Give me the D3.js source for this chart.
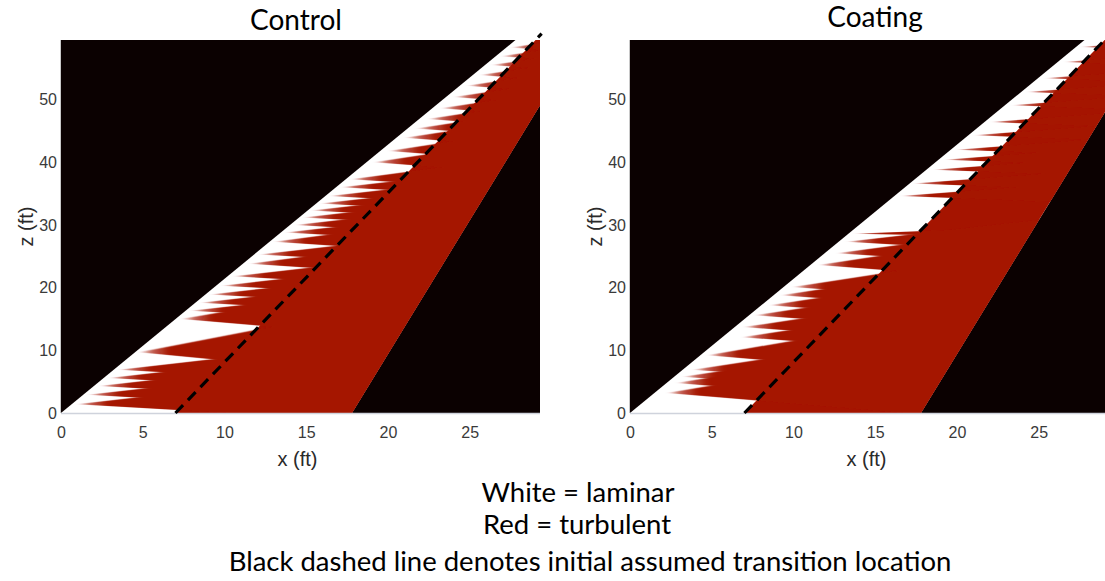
<!DOCTYPE html>
<html>
<head>
<meta charset="utf-8">
<script src="https://cdn.jsdelivr.net/npm/d3@7"></script>
<style>
    body { margin: 0; background: #fff; }
    .tick text { font-family: "Liberation Sans", Arial, sans-serif; font-size: 16px; fill: #3a3a3a; }
    .axis-title { font-family: "Liberation Sans", Arial, sans-serif; font-size: 20px; fill: #2a2a2a; }
    .title, .note { font-family: Lato, "Open Sans", sans-serif; fill: #000; }
</style>
</head>
<body>
<svg id="chart" width="1105" height="581"></svg>
<script>
// axis extents and ticks (ft)
const xMax = 29.3;
const zMax = 59.5;
const xTicks = [0, 5, 10, 15, 20, 25];
const zTicks = [0, 10, 20, 30, 40, 50];

// wing outline and assumed transition, as [x, z] end points
const leadingEdge = [[0, 0], [27.8, 59.5]];
const transitionLine = [[7.0, 0], [29.4, 60.5]];
const trailingEdge = [[17.8, 0], [29.4, 49.5]];

// turbulent wedges: [z of tip, x of tip, spread (dz/dx of upper edge)]
const controlWedges = [
    [1.4, 1.0, 0.3], [2.9, 1.7, 0.3], [4.3, 2.4, 0.3], [5.6, 3.0, 0.3], [6.9, 3.6, 0.3],
    [9.7, 4.8, 0.5], [15.0, 7.4, 0.45], [16.3, 8.0, 0.3], [17.6, 8.6, 0.3], [18.9, 9.2, 0.3],
    [20.3, 9.9, 0.3], [21.8, 10.6, 0.3], [23.8, 11.6, 0.35], [25.3, 12.2, 0.3], [27.3, 13.1, 0.35],
    [28.8, 13.8, 0.3], [30.0, 14.4, 0.3], [31.2, 14.9, 0.3], [32.3, 15.4, 0.3], [33.4, 15.95, 0.3],
    [34.6, 16.5, 0.3], [36.0, 17.2, 0.3], [37.3, 17.8, 0.35], [40.0, 19.2, 0.4], [41.8, 20.1, 0.4],
    [43.9, 21.1, 0.4], [45.4, 21.8, 0.4], [46.9, 22.5, 0.4], [48.6, 23.3, 0.4], [50.4, 24.1, 0.4],
    [52.2, 24.9, 0.4], [53.9, 25.7, 0.4], [55.5, 26.4, 0.4], [56.9, 27.0, 0.4], [58.3, 27.6, 0.4]
];
const coatingWedges = [
    [3.2, 2.3, 0.44], [4.8, 2.9, 0.44], [5.8, 3.3, 0.4], [6.9, 3.9, 0.4], [9.2, 4.8, 0.45],
    [12.1, 6.9, 0.4], [13.7, 7.0, 0.4], [15.6, 7.7, 0.4], [17.2, 8.6, 0.4], [18.8, 9.3, 0.4],
    [20.1, 10.0, 0.4], [23.6, 11.6, 0.4], [25.5, 12.7, 0.35], [27.3, 13.3, 0.3], [28.6, 13.7, 0.1],
    [34.6, 16.6, 0.2], [36.6, 17.4, 0.2], [38.8, 18.6, 0.2], [40.4, 19.3, 0.2], [42.0, 20.0, 0.2],
    [44.3, 21.1, 0.2], [46.4, 22.1, 0.2], [49.1, 23.4, 0.2], [51.2, 24.3, 0.2], [53.4, 25.4, 0.2],
    [56.0, 26.6, 0.2], [58.4, 27.6, 0.2]
];

const panelTitles = ['Control', 'Coating'];
const panelWedges = [controlWedges, coatingWedges];
const notes = ['White = laminar', 'Red = turbulent', 'Black dashed line denotes initial assumed transition location'];

const red = '#a51400';
const black = '#0b0101';

const svg = d3.select('#chart');
const defs = svg.append('defs');

// horizontal smear for the streaky wedge tips
const smear = defs.append('filter').attr('id', 'smear')
    .attr('x', '-5%').attr('y', '-5%').attr('width', '110%').attr('height', '110%');
smear.append('feGaussianBlur').attr('stdDeviation', '2.6 0.7');

const plotW = 479;
const plotH = 373;
const panelLeft = [61, 630];
const titleX = [235, 245];
const titleY = [-10, -13];
const plotTop = 40;

const x = d3.scaleLinear().domain([0, xMax]).range([0, plotW]);
const z = d3.scaleLinear().domain([0, zMax]).range([plotH, 0]);
const toPx = d => [x(d[0]), z(d[1])];

// x position of a straight edge at a given z
function xOnLine(seg, zv) {
    const [[x0, z0], [x1, z1]] = seg;
    return x0 + (x1 - x0) * (zv - z0) / (z1 - z0);
}

panelTitles.forEach(function(title, pi) {
    const g = svg.append('g').attr('transform', `translate(${panelLeft[pi]},${plotTop})`);

    defs.append('clipPath').attr('id', 'plot-' + pi)
        .append('rect').attr('width', plotW).attr('height', plotH);

    const zTop = zMax + 6;
    const wing = [
        [xOnLine(leadingEdge, 0), 0], [xOnLine(leadingEdge, zTop), zTop],
        [xOnLine(trailingEdge, zTop), zTop], [xOnLine(trailingEdge, 0), 0]
    ];
    defs.append('clipPath').attr('id', 'wing-' + pi)
        .append('polygon').attr('points', wing.map(toPx).join(' '));

    const plot = g.append('g').attr('clip-path', `url(#plot-${pi})`);

    plot.append('rect').attr('width', plotW).attr('height', plotH).attr('fill', black);

    // laminar wing surface
    plot.append('polygon').attr('points', wing.map(toPx).join(' ')).attr('fill', '#fff');

    // turbulent region behind the transition line
    const turbulent = [
        [xOnLine(transitionLine, 0), 0], [xOnLine(transitionLine, zTop), zTop],
        [xOnLine(trailingEdge, zTop), zTop], [xOnLine(trailingEdge, 0), 0]
    ];
    plot.append('polygon').attr('points', turbulent.map(toPx).join(' ')).attr('fill', red);

    // turbulent wedges with soft tips
    const wedgeG = plot.append('g').attr('clip-path', `url(#wing-${pi})`)
        .append('g').attr('filter', 'url(#smear)');
    const xEnd = xMax + 1;
    panelWedges[pi].forEach(function(w, i) {
        const [zt, xt, s] = w;
        const id = `tip-${pi}-${i}`;
        const grad = defs.append('linearGradient').attr('id', id)
            .attr('gradientUnits', 'userSpaceOnUse')
            .attr('x1', x(xt)).attr('x2', x(xt) + 30).attr('y1', 0).attr('y2', 0);
        grad.append('stop').attr('offset', 0).attr('stop-color', red).attr('stop-opacity', 0);
        grad.append('stop').attr('offset', 0.4).attr('stop-color', red).attr('stop-opacity', 0.65);
        grad.append('stop').attr('offset', 1).attr('stop-color', red).attr('stop-opacity', 1);
        const poly = [
            [xt, zt],
            [xEnd, zt + s * (xEnd - xt)],
            [xEnd, zt - s * 0.5 * (xEnd - xt)]
        ];
        wedgeG.append('polygon').attr('points', poly.map(toPx).join(' ')).attr('fill', `url(#${id})`);
    });

    // frame lines
    g.append('line').attr('x1', 0).attr('x2', plotW).attr('y1', plotH + 0.5).attr('y2', plotH + 0.5)
        .attr('stroke', '#cfd3dc').attr('stroke-width', 1.5);
    g.append('line').attr('x1', -0.5).attr('x2', -0.5).attr('y1', 0).attr('y2', plotH)
        .attr('stroke', '#c8c8c8').attr('stroke-width', 1);

    // assumed transition location
    g.append('path')
        .attr('d', d3.line()(transitionLine.map(toPx)))
        .attr('stroke', '#000').attr('stroke-width', 3.2)
        .attr('stroke-dasharray', '11,7').attr('fill', 'none');

    // axes
    g.append('g').attr('transform', `translate(0,${plotH})`)
        .call(d3.axisBottom(x).tickValues(xTicks).tickSize(0).tickPadding(14))
        .call(a => a.select('.domain').remove());
    g.append('g')
        .call(d3.axisLeft(z).tickValues(zTicks).tickSize(0).tickPadding(4))
        .call(a => a.select('.domain').remove());

    g.append('text').attr('class', 'axis-title')
        .attr('x', plotW / 2 - 3).attr('y', plotH + 53)
        .attr('text-anchor', 'middle').text('x (ft)');
    g.append('text').attr('class', 'axis-title')
        .attr('transform', `translate(-28,${plotH / 2}) rotate(-90)`)
        .attr('text-anchor', 'middle').text('z (ft)');

    g.append('text').attr('class', 'title')
        .attr('x', titleX[pi]).attr('y', titleY[pi])
        .attr('text-anchor', 'middle').attr('font-size', 28).text(title);
});

// notes under the panels
const noteX = [578, 577, 590];
const noteY = [502, 534, 571];
svg.selectAll('text.note')
    .data(notes)
    .enter()
    .append('text')
    .attr('class', 'note')
    .attr('x', (d, i) => noteX[i])
    .attr('y', (d, i) => noteY[i])
    .attr('text-anchor', 'middle')
    .attr('font-size', 27.5)
    .text(d => d);
</script>
</body>
</html>
